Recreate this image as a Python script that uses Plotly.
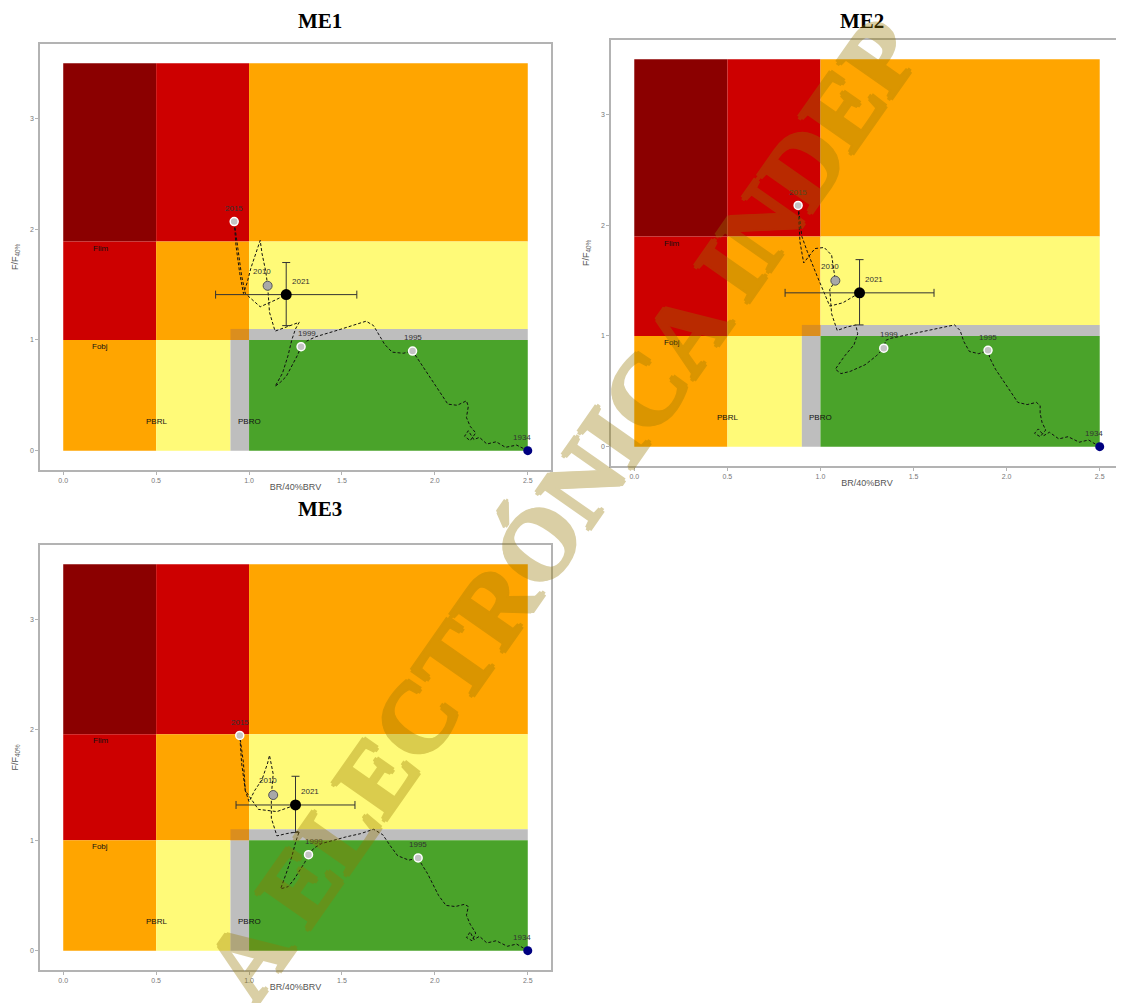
import plotly.graph_objects as go

# ---------------- data ----------------
panel_names = ["ME1", "ME2", "ME3"]

# reference points (F/F40% limit per panel)
f_lim = [1.89, 1.90, 1.96]
f_obj = 1.0
f_buffer = 1.1
b_lim = 0.5
b_buffer = 0.9
b_obj = 1.0
x_max = 2.5
y_max = 3.5

x_ticks = [0.0, 0.5, 1.0, 1.5, 2.0, 2.5]
x_tick_labels = ["0.0", "0.5", "1.0", "1.5", "2.0", "2.5"]
y_ticks = [0, 1, 2, 3]
y_tick_labels = ["0", "1", "2", "3"]

# trajectories (BR/BRV40%, F/F40%) from 1934 to 2021
traj_x_me1 = [2.50, 2.44, 2.38, 2.33, 2.28, 2.24, 2.21, 2.18, 2.16, 2.19, 2.22, 2.19, 2.17,
              2.18, 2.17, 2.12, 2.07, 2.03, 1.99, 1.95, 1.91, 1.88, 1.83, 1.77, 1.73, 1.70,
              1.67, 1.63, 1.56, 1.48, 1.42, 1.36, 1.31, 1.28, 1.26, 1.23, 1.20, 1.17, 1.14,
              1.18, 1.21, 1.23, 1.25, 1.27, 1.20, 1.14, 1.11, 1.10, 1.09, 1.07, 1.06, 1.04,
              1.01, 0.99, 0.97, 0.95, 0.93, 0.92, 0.94, 0.96, 0.98, 1.06, 1.14, 1.20]
traj_y_me1 = [0.00, 0.05, 0.03, 0.08, 0.06, 0.12, 0.10, 0.18, 0.13, 0.09, 0.16, 0.22, 0.30,
              0.40, 0.45, 0.41, 0.42, 0.52, 0.62, 0.72, 0.82, 0.90, 0.88, 0.89, 0.96, 1.04,
              1.13, 1.17, 1.13, 1.09, 1.06, 1.03, 0.99, 0.94, 0.86, 0.76, 0.67, 0.62, 0.58,
              0.70, 0.86, 1.00, 1.10, 1.16, 1.12, 1.08, 1.25, 1.49, 1.62, 1.78, 1.90, 1.80,
              1.65, 1.52, 1.42, 1.60, 1.85, 2.07, 1.80, 1.58, 1.42, 1.30, 1.36, 1.41]

traj_x_me2 = [2.50, 2.44, 2.39, 2.33, 2.28, 2.23, 2.20, 2.17, 2.15, 2.18, 2.21, 2.19, 2.18,
              2.18, 2.16, 2.11, 2.06, 2.02, 1.98, 1.94, 1.91, 1.90, 1.85, 1.80, 1.77, 1.75,
              1.72, 1.66, 1.58, 1.50, 1.44, 1.38, 1.35, 1.34, 1.30, 1.24, 1.16, 1.11, 1.08,
              1.13, 1.18, 1.20, 1.19, 1.14, 1.09, 1.06, 1.05, 1.08, 1.06, 1.02, 0.97, 0.93,
              0.91, 0.89, 0.88, 0.90, 0.93, 0.98, 1.05, 1.12, 1.21]
traj_y_me2 = [0.00, 0.06, 0.04, 0.09, 0.07, 0.13, 0.10, 0.16, 0.12, 0.09, 0.15, 0.22, 0.30,
              0.37, 0.40, 0.38, 0.40, 0.50, 0.60, 0.70, 0.80, 0.87, 0.84, 0.86, 0.95, 1.05,
              1.10, 1.08, 1.05, 1.02, 1.00, 0.98, 0.96, 0.89, 0.82, 0.74, 0.68, 0.66, 0.70,
              0.82, 0.92, 1.02, 1.10, 1.08, 1.05, 1.20, 1.42, 1.50, 1.73, 1.80, 1.79, 1.70,
              1.66, 1.85, 2.18, 1.90, 1.76, 1.55, 1.27, 1.30, 1.39]

traj_x_me3 = [2.50, 2.44, 2.39, 2.33, 2.28, 2.24, 2.21, 2.19, 2.17, 2.20, 2.22, 2.19, 2.17,
              2.18, 2.16, 2.11, 2.06, 2.02, 1.99, 1.96, 1.93, 1.91, 1.86, 1.80, 1.76, 1.72,
              1.67, 1.60, 1.52, 1.45, 1.39, 1.35, 1.32, 1.30, 1.27, 1.24, 1.21, 1.17, 1.20,
              1.23, 1.25, 1.27, 1.20, 1.15, 1.12, 1.12, 1.13, 1.11, 1.10, 1.07, 1.03, 1.00,
              0.98, 0.97, 0.95, 0.96, 0.98, 1.05, 1.15, 1.25]
traj_y_me3 = [0.00, 0.06, 0.04, 0.09, 0.07, 0.13, 0.10, 0.17, 0.12, 0.09, 0.16, 0.24, 0.32,
              0.40, 0.42, 0.40, 0.41, 0.50, 0.60, 0.70, 0.78, 0.84, 0.82, 0.86, 0.95, 1.05,
              1.10, 1.06, 1.03, 1.00, 0.97, 0.93, 0.87, 0.80, 0.72, 0.64, 0.58, 0.56, 0.70,
              0.85, 0.98, 1.08, 1.06, 1.04, 1.20, 1.41, 1.60, 1.77, 1.70, 1.55, 1.45, 1.35,
              1.45, 1.70, 1.95, 1.70, 1.45, 1.28, 1.26, 1.32]

# labelled years on each trajectory
label_years = ["1934", "1995", "1999", "2010", "2015", "2021"]
label_x_me1 = [2.50, 1.88, 1.28, 1.10, 0.92, 1.20]
label_y_me1 = [0.00, 0.90, 0.94, 1.49, 2.07, 1.41]
label_x_me2 = [2.50, 1.90, 1.34, 1.08, 0.88, 1.21]
label_y_me2 = [0.00, 0.87, 0.89, 1.50, 2.18, 1.39]
label_x_me3 = [2.50, 1.91, 1.32, 1.13, 0.95, 1.25]
label_y_me3 = [0.00, 0.84, 0.87, 1.41, 1.95, 1.32]

# 2021 uncertainty (low, high)
err_x_me1 = [0.82, 1.58]
err_y_me1 = [1.13, 1.70]
err_x_me2 = [0.81, 1.61]
err_y_me2 = [1.10, 1.69]
err_x_me3 = [0.93, 1.57]
err_y_me3 = [1.07, 1.58]

zone_labels = ["Flim", "Fobj", "PBRL", "PBRO"]

traj_x = [traj_x_me1, traj_x_me2, traj_x_me3]
traj_y = [traj_y_me1, traj_y_me2, traj_y_me3]
lab_x = [label_x_me1, label_x_me2, label_x_me3]
lab_y = [label_y_me1, label_y_me2, label_y_me3]
err_x = [err_x_me1, err_x_me2, err_x_me3]
err_y = [err_y_me1, err_y_me2, err_y_me3]

# ---------------- style / layout ----------------
# the page adds an 8px body margin, so the figure is 8px smaller than the window
OFF = 8
W, H = 1124 - OFF, 1003 - OFF


def fx(px):
    return (px - OFF) / W


def fy(py):
    return 1 - (py - OFF) / H


frames = [  # pixel boxes (in window pixels) of the plotting panels (left, right, top, bottom)
    (40, 551, 44, 470),
    (611, 1123, 40, 466),
    (40, 551, 545, 970),
]
title_pos = [(320, 8), (862, 8), (320, 496)]  # top of title box

C_DARKRED = "#8B0000"
C_RED = "#CD0000"
C_ORANGE = "#FFA500"
C_YELLOW = "#FFFA78"
C_GREY = "#BEBEBE"
C_GREEN = "#4AA32A"
C_MIX = "#DB8E1E"

fig = go.Figure()
shapes = []
annotations = []

for i, name in enumerate(panel_names):
    sfx = "" if i == 0 else str(i + 1)
    xr, yr = "x" + sfx, "y" + sfx
    fl = f_lim[i]
    rects = [
        (0, b_lim, fl, y_max, C_DARKRED),
        (b_lim, b_obj, fl, y_max, C_RED),
        (b_obj, x_max, fl, y_max, C_ORANGE),
        (0, b_lim, f_obj, fl, C_RED),
        (b_lim, b_obj, f_obj, fl, C_ORANGE),
        (b_obj, x_max, f_buffer, fl, C_YELLOW),
        (b_obj, x_max, f_obj, f_buffer, C_GREY),
        (0, b_lim, 0, f_obj, C_ORANGE),
        (b_lim, b_buffer, 0, f_obj, C_YELLOW),
        (b_buffer, b_obj, 0, f_obj, C_GREY),
        (b_buffer, b_obj, f_obj, f_buffer, C_MIX),
        (b_obj, x_max, 0, f_obj, C_GREEN),
    ]
    for x0, x1, y0, y1, c in rects:
        shapes.append(dict(type="rect", xref=xr, yref=yr, x0=x0, x1=x1, y0=y0, y1=y1,
                           fillcolor=c, line=dict(width=0), layer="below"))

    # zone labels
    zl_pos = [(0.2, fl - 0.06), (0.2, f_obj - 0.06), (b_lim, 0.26), (b_obj, 0.26)]
    for txt, (zx, zy) in zip(zone_labels, zl_pos):
        annotations.append(dict(xref=xr, yref=yr, x=zx, y=zy, text=txt, showarrow=False,
                                font=dict(size=8, color="#111", family="Liberation Sans")))

    # trajectory
    fig.add_trace(go.Scatter(x=traj_x[i], y=traj_y[i], mode="lines", xaxis=xr, yaxis=yr,
                             line=dict(color="#111", width=1, dash="3px,2px"),
                             showlegend=False, hoverinfo="skip"))

    lx, ly = lab_x[i], lab_y[i]
    # grey intermediate points
    fig.add_trace(go.Scatter(x=[lx[1], lx[2], lx[4]], y=[ly[1], ly[2], ly[4]], mode="markers",
                             xaxis=xr, yaxis=yr, showlegend=False,
                             marker=dict(size=8, color="#C4C4C4", line=dict(color="white", width=1.5))))
    fig.add_trace(go.Scatter(x=[lx[3]], y=[ly[3]], mode="markers", xaxis=xr, yaxis=yr,
                             showlegend=False,
                             marker=dict(size=9, color="#A8A8A8", line=dict(color="#555", width=1))))
    # 2021 with error bars
    ex, ey = err_x[i], err_y[i]
    fig.add_trace(go.Scatter(x=[lx[5]], y=[ly[5]], mode="markers", xaxis=xr, yaxis=yr,
                             showlegend=False,
                             marker=dict(size=11, color="black"),
                             error_x=dict(type="data", symmetric=False, array=[ex[1] - lx[5]],
                                          arrayminus=[lx[5] - ex[0]], color="#333", thickness=1, width=4),
                             error_y=dict(type="data", symmetric=False, array=[ey[1] - ly[5]],
                                          arrayminus=[ly[5] - ey[0]], color="#333", thickness=1, width=4)))
    # 1934 start point
    fig.add_trace(go.Scatter(x=[lx[0]], y=[ly[0]], mode="markers", xaxis=xr, yaxis=yr,
                             showlegend=False, cliponaxis=False,
                             marker=dict(size=9, color="#000080")))

    # year labels
    offs = [(-0.03, 0.12), (0.0, 0.12), (0.03, 0.12), (-0.03, 0.13), (0.0, 0.12), (0.08, 0.12)]
    for yr_txt, px, py, (dx, dy) in zip(label_years, lx, ly, offs):
        annotations.append(dict(xref=xr, yref=yr, x=px + dx, y=py + dy, text=yr_txt, showarrow=False,
                                font=dict(size=8, color="#333", family="Liberation Sans")))

    # panel title
    tx, ty = title_pos[i]
    annotations.append(dict(xref="paper", yref="paper", x=fx(tx), y=fy(ty), text="<b>" + name + "</b>",
                            showarrow=False, xanchor="center", yanchor="top", borderpad=0,
                            font=dict(size=21, color="black", family="Liberation Serif")))

    l, r, t, b = frames[i]
    ax_common = dict(showline=True, mirror=True, linecolor="#B3B3B3", linewidth=1.5,
                     ticks="outside", ticklen=3, tickcolor="#B3B3B3", tickwidth=1,
                     showgrid=False, zeroline=False, automargin=False,
                     tickfont=dict(size=7, color="#777", family="Liberation Sans"))
    fig.layout["xaxis" + sfx] = dict(domain=[fx(l), fx(r)], range=[-0.125, 2.625], anchor=yr,
                                     tickvals=x_ticks, ticktext=x_tick_labels,
                                     title=dict(text="BR/40%BRV", standoff=1,
                                                font=dict(size=9, color="#555", family="Liberation Sans")),
                                     **ax_common)
    fig.layout["yaxis" + sfx] = dict(domain=[fy(b), fy(t)], range=[-0.175, 3.675], anchor=xr,
                                     tickvals=y_ticks, ticktext=y_tick_labels,
                                     title=dict(text="F/F<sub>40%</sub>", standoff=10,
                                                font=dict(size=9, color="#555", family="Liberation Sans")),
                                     **ax_common)

# watermark
wm_c = "rgb(150,120,0)"
annotations.append(dict(xref="paper", yref="paper", x=fx(562), y=fy(510),
                        text="<b>A ELECTRÓNICA INDEP</b>", showarrow=False, textangle=-55,
                        xanchor="center", yanchor="middle", opacity=0.35,
                        font=dict(size=100, color=wm_c, family="Liberation Serif",
                                  shadow="2px 0 0 %s, -2px 0 0 %s, 0 2px 0 %s, 0 -2px 0 %s" % (wm_c, wm_c, wm_c, wm_c))))

fig.update_layout(width=W, height=H, margin=dict(l=0, r=0, t=0, b=0),
                  paper_bgcolor="white", plot_bgcolor="white",
                  shapes=shapes, annotations=annotations, showlegend=False)

fig.write_html("out.html")
